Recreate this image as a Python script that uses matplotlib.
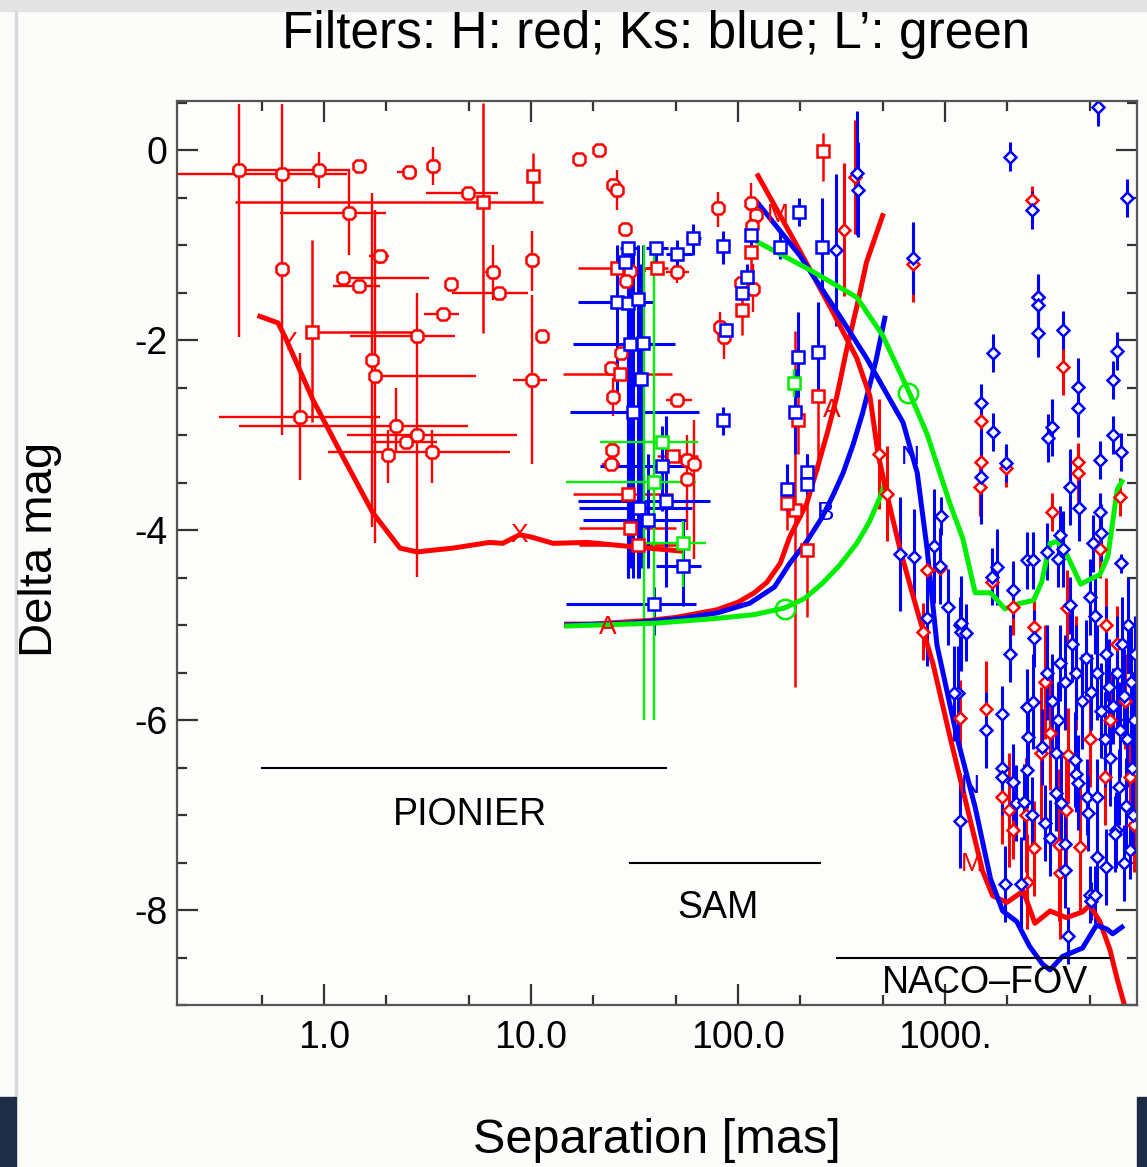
import numpy as np
import matplotlib.pyplot as plt
from matplotlib.patches import Rectangle

plt.rcParams['font.family'] = ['Liberation Sans', 'DejaVu Sans']

RED, BLUE, GREEN = '#ff0000', '#0000ff', '#00ee00'

# ---- detection limit curves (separation [mas], delta mag) ----
pio_lim_sep = [0.49, 0.60, 0.65, 0.885, 1.235, 1.725, 2.33, 2.81, 4.2, 6.3, 7.3, 8.8, 9.9, 12.8, 18.7, 32.5, 52.5]
pio_lim_dm = [-1.75, -1.82, -1.97, -2.63, -3.23, -3.82, -4.19, -4.23, -4.19, -4.13, -4.14, -4.05, -4.07, -4.14, -4.13, -4.18, -4.22]

sam_H_sep = [14.9, 20, 37.7, 50, 79, 100, 120, 138, 160, 178, 215, 240, 270, 300, 335, 375, 418, 500]
sam_H_dm = [-4.99, -4.99, -4.95, -4.92, -4.84, -4.76, -4.66, -4.55, -4.35, -4.07, -3.72, -3.37, -2.98, -2.6, -2.1, -1.65, -1.18, -0.69]
sam_K_sep = [14.9, 30, 54, 80, 114, 150, 178, 215, 256, 290, 322, 360, 400, 465, 512]
sam_K_dm = [-5.0, -4.98, -4.93, -4.87, -4.77, -4.6, -4.35, -4.12, -3.86, -3.62, -3.4, -3.1, -2.77, -2.21, -1.77]
sam_L_sep = [14.9, 40, 79, 120, 168, 210, 256, 310, 375, 430, 487, 510]
sam_L_dm = [-5.01, -4.98, -4.93, -4.89, -4.82, -4.72, -4.56, -4.37, -4.14, -3.92, -3.65, -3.52]

naco_H_sep = [125, 199, 288, 375, 434, 475, 526, 608, 735, 876, 1056, 1280, 1520, 1700, 1990, 2390, 2720, 3220, 3860, 4620, 5000, 5600, 6270, 6800, 7300]
naco_H_dm = [-0.27, -1.06, -1.71, -2.19, -2.59, -3.2, -3.64, -4.21, -4.85, -5.41, -6.17, -6.92, -7.59, -7.85, -7.92, -7.8, -8.14, -8.01, -8.08, -8.02, -7.95, -8.12, -8.42, -8.73, -8.97]
naco_K_sep = [125, 199, 311, 418, 628, 735, 820, 915, 1140, 1400, 1660, 1900, 2220, 2560, 2960, 3220, 3690, 4620, 5390, 6050, 6460, 7160]
naco_K_dm = [-0.56, -1.11, -1.75, -2.19, -2.87, -3.4, -4.2, -5.21, -6.17, -6.92, -7.67, -8.01, -8.12, -8.38, -8.57, -8.63, -8.49, -8.4, -8.16, -8.2, -8.25, -8.18]
naco_L_sep = [125, 222, 375, 500, 662, 820, 1056, 1220, 1400, 1660, 1950, 2220, 2680, 2930, 3220, 3480, 3860, 4530, 5000, 5600, 6120, 6800, 7160]
naco_L_dm = [-0.97, -1.26, -1.55, -1.95, -2.52, -2.99, -3.72, -4.09, -4.66, -4.66, -4.83, -4.78, -4.74, -4.55, -4.14, -4.12, -4.25, -4.57, -4.52, -4.47, -4.28, -3.57, -3.49]

# ---- H band (red) octagon points: value, lower/upper bounds ----
h_oct_sep = [0.39, 0.63, 0.95, 1.48, 2.57, 3.37, 4.97, 1.32, 0.63, 1.87, 1.71, 1.76, 1.24, 1.48, 4.10, 6.55, 7.00, 10.1, 3.76, 2.81, 11.3, 10.1, 0.765, 2.23, 2.81, 2.49, 3.33, 2.04,
             17.1, 21.3, 24.9, 26.1, 28.5, 30.0, 28.8, 50.6, 27.2, 24.4, 25.0, 50.6, 24.6, 24.4, 56.6, 57.0, 61.0, 80.0, 116, 122, 117, 104, 118, 81.6, 86]
h_oct_dm = [-0.21, -0.25, -0.21, -0.17, -0.23, -0.17, -0.45, -0.66, -1.25, -1.12, -2.21, -2.38, -1.35, -1.43, -1.41, -1.28, -1.50, -1.16, -1.73, -1.96, -1.96, -2.42, -2.81, -2.90, -3.00, -3.07, -3.18, -3.21,
            -0.09, 0.0, -0.37, -0.42, -0.83, -1.27, -1.38, -1.28, -2.14, -2.29, -2.60, -2.63, -3.16, -3.30, -3.26, -3.46, -3.30, -0.61, -0.56, -0.68, -0.80, -1.40, -1.46, -1.86, -1.97]
h_oct_sep_lo = [0.36, 0.19, 0.90, 1.40, 2.25, 3.30, 3.10, 0.61, 0.60, 1.65, 1.68, 1.65, 1.16, 1.10, 3.90, 6.00, 4.15, 9.80, 3.04, 1.34, 11.0, 8.20, 0.31, 0.39, 1.29, 1.70, 1.05, 2.00,
                17.1, 21.3, 24.9, 26.1, 28.5, 26.0, 28.8, 45.0, 27.2, 23.0, 25.0, 45.0, 24.6, 22.0, 56.6, 57.0, 61.0, 80.0, 116, 122, 117, 104, 118, 81.6, 86]
h_oct_sep_hi = [1.34, 1.29, 1.00, 1.60, 2.80, 3.45, 6.90, 2.00, 0.66, 2.06, 1.74, 5.40, 3.20, 1.87, 4.30, 7.20, 9.70, 10.4, 4.49, 4.30, 11.6, 11.9, 1.87, 4.97, 8.60, 3.50, 7.90, 2.08,
                17.1, 21.3, 24.9, 26.1, 28.5, 36.0, 28.8, 58.0, 27.2, 26.0, 25.0, 60.0, 24.6, 27.0, 56.6, 57.0, 61.0, 80.0, 116, 122, 117, 104, 118, 81.6, 86]
h_oct_dm_lo = [-1.97, -0.95, -0.40, -0.20, -0.26, -0.37, -0.50, -1.10, -3.00, -1.20, -3.97, -4.14, -1.40, -1.47, -1.45, -1.58, -1.55, -1.48, -1.77, -4.49, -2.00, -3.30, -3.47, -3.19, -3.05, -3.12, -3.50, -3.50,
               -0.09, 0.0, -0.37, -0.63, -0.83, -1.27, -1.38, -1.40, -2.14, -2.29, -2.80, -2.63, -3.16, -3.30, -3.26, -4.00, -4.30, -0.81, -0.90, -0.68, -0.80, -1.40, -1.70, -2.00, -2.20]
h_oct_dm_hi = [0.49, 0.49, -0.02, -0.14, -0.20, 0.03, -0.40, -0.21, -0.95, -1.05, -0.45, -0.63, -1.30, -1.39, -1.37, -1.00, -1.45, -0.85, -1.69, -1.50, -1.92, -1.53, -2.14, -2.50, -2.95, -3.02, -2.95, -2.95,
               -0.09, 0.0, -0.37, -0.21, -0.83, -1.27, -1.38, -1.15, -2.14, -2.29, -2.40, -2.63, -3.16, -3.30, -3.26, -3.00, -2.84, -0.44, -0.35, -0.68, -0.80, -1.40, -1.20, -1.70, -1.90]

# ---- H band (red) squares ----
h_sq_sep = [10.2, 5.86, 0.875, 26.1, 40.5, 48.6, 29.5, 27.0, 30.0, 33.0, 116, 105, 257, 243, 195, 189, 172, 215]
h_sq_dm = [-0.27, -0.55, -1.92, -1.24, -1.24, -3.22, -3.62, -2.36, -3.98, -4.16, -1.07, -1.68, -0.01, -2.59, -2.84, -3.79, -3.72, -4.21]
h_sq_sep_lo = [10.2, 0.37, 0.83, 16.8, 36.0, 40.5, 15.9, 14.3, 17.0, 17.0, 116, 105, 257, 243, 195, 189, 172, 215]
h_sq_sep_hi = [10.2, 11.4, 2.80, 39.5, 46.0, 64.0, 48.4, 47.9, 50.0, 50.0, 116, 105, 257, 243, 195, 189, 172, 215]
h_sq_dm_lo = [-0.55, -1.93, -2.86, -1.24, -1.24, -3.22, -3.62, -2.36, -3.98, -4.16, -1.40, -1.95, -0.33, -3.37, -3.20, -5.65, -4.00, -4.92]
h_sq_dm_hi = [-0.03, 0.50, -0.95, -1.24, -1.24, -3.22, -3.62, -2.36, -3.98, -4.16, -0.85, -1.45, 0.18, -1.90, -2.40, -1.90, -3.40, -3.61]

# ---- Ks band (blue) squares ----
k_sq_sep = [29.5, 28.5, 40.2, 50.6, 60.6, 26.1, 29.5, 32.9, 30.0, 34.7, 34.0, 31.1, 43.0, 44.8, 33.3, 36.7, 54.3, 39.2,
            84.6, 110, 105, 116, 88, 159, 197, 255, 195, 243, 189, 172, 215, 215, 84.6]
k_sq_dm = [-1.03, -1.18, -1.03, -1.09, -0.93, -1.60, -1.61, -1.57, -2.04, -2.03, -2.41, -2.76, -3.33, -3.69, -3.77, -3.89, -4.38, -4.78,
           -1.01, -1.34, -1.50, -0.89, -1.89, -1.02, -0.65, -1.02, -2.18, -2.13, -2.76, -3.57, -3.39, -3.51, -2.84]
k_sq_sep_lo = [27.0, 28.5, 36.0, 45.0, 56.0, 16.8, 29.5, 32.9, 15.9, 34.7, 34.0, 15.4, 21.6, 16.8, 17.0, 17.8, 40.0, 14.7,
               80.0, 110, 105, 116, 88, 159, 197, 255, 195, 243, 189, 172, 215, 215, 80.0]
k_sq_sep_hi = [33.0, 28.5, 46.0, 60.0, 66.0, 38.8, 29.5, 32.9, 49.6, 34.7, 34.0, 65.0, 64.0, 73.0, 60.0, 56.0, 66.0, 63.0,
               90.0, 110, 105, 116, 88, 159, 197, 255, 195, 243, 189, 172, 215, 215, 90.0]
k_sq_dm_lo = [-4.50, -1.18, -1.30, -1.30, -1.10, -2.60, -4.50, -4.50, -4.40, -4.30, -4.40, -4.50, -3.80, -4.60, -4.50, -4.40, -4.80, -5.10,
              -1.20, -1.50, -1.50, -1.00, -1.89, -1.15, -0.80, -1.44, -2.60, -2.60, -3.20, -3.80, -3.70, -3.70, -3.00]
k_sq_dm_hi = [-0.98, -1.18, -0.98, -0.95, -0.78, -1.00, -1.00, -1.00, -1.00, -1.00, -1.20, -1.00, -2.90, -2.80, -3.00, -3.20, -3.90, -4.60,
              -0.85, -1.20, -1.50, -0.80, -1.89, -0.85, -0.50, -0.50, -1.70, -1.60, -2.30, -3.30, -3.20, -3.20, -2.70]

# ---- L' band (green) squares and bars ----
l_sq_sep = [43.0, 39.2, 54.3, 187, 35.0, 39.5]
l_sq_dm = [-3.07, -3.49, -4.14, -2.45, -3.50, -3.50]
l_sq_sep_lo = [21.6, 14.7, 31.0, 187, 35.0, 39.5]
l_sq_sep_hi = [64.0, 63.0, 70.0, 187, 35.0, 39.5]
l_sq_dm_lo = [-3.07, -3.49, -4.60, -2.60, -6.00, -6.00]
l_sq_dm_hi = [-3.07, -3.49, -3.90, -2.30, -1.00, -1.05]

# ---- NACO points (vertical error only) ----
naco_h_sep = [366, 700, 2630, 2800, 3700, 1500, 1490, 1470, 1970, 4400, 4400, 7000, 3300, 325, 480, 526, 780, 950, 820, 1680,
              2130, 2700, 3900, 1180, 1580, 2900, 3200, 3950, 1880, 2050, 2450, 2120, 2700, 3550, 3850, 4500, 3600, 7800, 5000,
              6300, 6800, 5600, 6000, 4300, 7400, 5900, 8200, 2500, 3050]
naco_h_dm = [-0.28, -1.20, -0.53, -1.55, -2.28, -2.85, -3.28, -3.55, -3.35, -3.28, -3.40, -3.65, -3.81, -0.84, -3.20, -3.62, -5.07, -4.40, -4.42, -4.55,
             -4.81, -5.02, -4.82, -5.98, -5.88, -6.35, -6.14, -6.37, -6.81, -6.95, -7.00, -7.16, -7.35, -7.32, -6.95, -7.34, -7.61, -6.60, -6.20,
             -6.00, -5.20, -4.20, -5.00, -5.50, -5.80, -6.60, -7.10, -7.70, -5.60]
naco_h_err = [0.6, 0.4, 0.15, 0.2, 0.3, 0.2, 0.2, 0.3, 0.2, 0.2, 0.3, 0.2, 0.2, 0.7, 0.58, 0.5, 0.3, 0.2, 0.2, 0.2,
              0.3, 0.3, 0.4, 0.4, 0.5, 0.7, 0.6, 0.5, 0.5, 0.6, 0.6, 0.3, 0.5, 0.8, 0.6, 0.7, 0.7, 0.4, 0.5,
              0.5, 0.4, 0.3, 0.5, 0.6, 0.5, 0.5, 0.5, 0.5, 0.6]

naco_k_sep = [375, 380, 298, 700, 2060, 2630, 5500, 7600, 2800, 2820, 2800, 1700, 3700, 4400, 4400, 6800, 6500, 1500, 1710, 3300,
              3150, 6500, 7100, 1970, 1490, 4450, 4000, 5600, 5600, 606, 705, 820, 890, 950, 1030, 1180, 1200, 960, 1150, 1580,
              1880, 1180, 1950, 2340, 3950, 5000, 5100, 1690, 1790, 2130, 2480, 2670, 3120, 3600, 3700, 3500, 5200, 5700, 7100,
              1200, 1260, 2060, 2700, 4000, 5000, 5300, 1100, 2500, 2660, 2520, 2950, 1880, 1880, 2130, 2500, 3450, 4250, 4300,
              2200, 2400, 2620, 3050, 3200, 3450, 3650, 3800, 4400, 4850, 5400, 4900, 5450, 6000, 6700, 7800, 3800, 5300,
              3600, 3800, 4100, 4300, 4600, 4800, 5100, 5400, 5700, 6000, 6200, 6500, 6800, 7000, 7300, 7600, 7900, 8200,
              6300, 6900, 7500, 8000, 5900, 7200, 7700, 8300, 3300, 3100, 3500, 6600, 7300, 8100]
naco_k_dm = [-0.24, -0.42, -1.05, -1.14, -0.07, -0.63, 0.45, -0.50, -1.55, -1.63, -1.93, -2.14, -1.89, -2.49, -2.72, -2.11, -2.42, -2.66, -2.97, -2.92,
             -3.03, -3.00, -3.18, -3.29, -3.44, -3.77, -3.55, -3.26, -3.81, -4.25, -4.28, -4.93, -4.17, -4.38, -4.81, -5.00, -5.07, -3.85, -5.72, -6.10,
             -5.94, -7.06, -7.73, -7.73, -8.27, -7.84, -7.90, -4.49, -4.39, -4.63, -4.32, -4.32, -4.23, -4.05, -4.20, -4.30, -4.14, -4.03, -4.35,
             -4.98, -5.08, -5.30, -5.14, -4.79, -4.70, -4.90, -5.72, -5.86, -5.81, -6.18, -6.28, -6.50, -6.60, -6.65, -6.53, -6.35, -6.42, -6.57,
             -6.87, -6.86, -7.00, -7.08, -7.24, -6.77, -6.87, -7.30, -6.66, -6.81, -6.81, -6.98, -7.44, -7.55, -7.16, -7.37, -7.58, -7.84,
             -5.40, -5.60, -5.20, -5.50, -5.80, -5.35, -5.70, -5.50, -5.90, -5.30, -5.65, -5.85, -5.50, -6.10, -5.75, -6.20, -5.60, -6.00,
             -6.40, -6.70, -6.90, -6.50, -6.20, -5.20, -5.00, -5.30, -5.80, -5.50, -6.00, -7.20, -7.50, -7.00]
naco_k_err = [0.65, 0.5, 0.8, 0.38, 0.15, 0.2, 0.2, 0.2, 0.25, 0.2, 0.25, 0.2, 0.2, 0.3, 0.3, 0.2, 0.2, 0.2, 0.2, 0.3,
              0.25, 0.2, 0.2, 0.2, 0.5, 0.35, 0.4, 0.2, 0.2, 0.6, 0.5, 0.5, 0.6, 0.4, 0.4, 0.3, 0.3, 0.2, 0.5, 0.4,
              0.3, 0.5, 0.4, 0.5, 0.3, 0.3, 0.2, 0.3, 0.4, 0.3, 0.3, 0.3, 0.3, 0.3, 0.4, 0.3, 0.3, 0.3, 0.1,
              0.5, 0.3, 0.3, 0.3, 0.3, 0.4, 0.4, 0.5, 0.4, 0.5, 0.4, 0.4, 0.4, 0.4, 0.4, 0.4, 0.4, 0.5, 0.4,
              0.4, 0.4, 0.4, 0.4, 0.4, 0.4, 0.5, 0.4, 0.5, 0.4, 0.4, 0.4, 0.4, 0.4, 0.4, 0.3, 0.4, 0.3,
              0.4, 0.5, 0.4, 0.5, 0.5, 0.4, 0.4, 0.5, 0.5, 0.5, 0.5, 0.4, 0.6, 0.5, 0.5, 0.5, 0.6, 0.5,
              0.5, 0.4, 0.5, 0.5, 0.5, 0.5, 0.5, 0.4, 0.5, 0.5, 0.4, 0.4, 0.4, 0.4]

# ---- symbol letters on the curves ----
sym_text = ['Y', 'X', 'A', 'M', 'A', 'B', 'N', 'N', 'M']
sym_sep = [0.67, 8.8, 23.6, 156, 285, 266, 680, 1320, 1350]
sym_dm = [-2.03, -4.05, -5.02, -0.68, -2.74, -3.82, -3.23, -6.69, -7.52]
sym_color = [RED, RED, RED, RED, RED, BLUE, BLUE, BLUE, RED]
circ_sep = [168, 662]
circ_dm = [-4.83, -2.56]

# ---- instrument ranges ----
inst_name = ['PIONIER', 'SAM', 'NACO\u2013FOV']
inst_lo = [0.5, 30, 300]
inst_hi = [45, 250, 6300]
inst_dm = [-6.5, -7.5, -8.5]
inst_text_sep = [5.1, 80, 1560]
inst_text_dm = [-7.0, -7.98, -8.77]


def bounds_err(v, lo, hi):
    v, lo, hi = np.asarray(v), np.asarray(lo), np.asarray(hi)
    return np.vstack([v - lo, hi - v])


fig = plt.figure(figsize=(11.47, 11.67), dpi=100, facecolor='#fcfcfa')
# screenshot frame
fig.patches.append(Rectangle((0, 0.991), 1, 0.009, transform=fig.transFigure, color='#e4e4e4', zorder=0))
fig.patches.append(Rectangle((0.0135, 0.06), 0.0012, 0.931, transform=fig.transFigure, color='#d8d8d8', zorder=0))
fig.patches.append(Rectangle((0, 0), 0.014, 0.06, transform=fig.transFigure, color='#1f2c48', zorder=0))
fig.patches.append(Rectangle((0.991, 0), 0.009, 0.06, transform=fig.transFigure, color='#1f2c48', zorder=0))

ax = fig.add_axes([0.1543, 0.1388, 0.837, 0.7746])
ax.set_facecolor('#fdfdfb')
ax.set_xscale('log')
ax.set_xlim(0.195, 8470)
ax.set_ylim(-9.0, 0.516)

ebkw = dict(capsize=0, linestyle='none', mfc='white', mew=1.8)

# H band
ax.errorbar(h_oct_sep, h_oct_dm, xerr=bounds_err(h_oct_sep, h_oct_sep_lo, h_oct_sep_hi),
            yerr=bounds_err(h_oct_dm, h_oct_dm_lo, h_oct_dm_hi), fmt='8', ms=9.5,
            color=RED, elinewidth=1.7, **ebkw)
ax.errorbar(h_sq_sep, h_sq_dm, xerr=bounds_err(h_sq_sep, h_sq_sep_lo, h_sq_sep_hi),
            yerr=bounds_err(h_sq_dm, h_sq_dm_lo, h_sq_dm_hi), fmt='s', ms=9,
            color=RED, elinewidth=1.8, **ebkw)
ax.errorbar(naco_h_sep, naco_h_dm, yerr=naco_h_err, fmt='D', ms=6.5,
            color=RED, elinewidth=2.2, **ebkw)

# Ks band
ax.errorbar(k_sq_sep, k_sq_dm, xerr=bounds_err(k_sq_sep, k_sq_sep_lo, k_sq_sep_hi),
            yerr=bounds_err(k_sq_dm, k_sq_dm_lo, k_sq_dm_hi), fmt='s', ms=9,
            color=BLUE, elinewidth=2.2, **ebkw)
ax.errorbar(naco_k_sep, naco_k_dm, yerr=naco_k_err, fmt='D', ms=6.5,
            color=BLUE, elinewidth=2.2, **ebkw)

# L' band
ax.errorbar(l_sq_sep[:4], l_sq_dm[:4], xerr=bounds_err(l_sq_sep[:4], l_sq_sep_lo[:4], l_sq_sep_hi[:4]),
            yerr=bounds_err(l_sq_dm[:4], l_sq_dm_lo[:4], l_sq_dm_hi[:4]), fmt='s', ms=9,
            color=GREEN, elinewidth=1.7, **ebkw)
ax.errorbar(l_sq_sep[4:], l_sq_dm[4:], yerr=bounds_err(l_sq_dm[4:], l_sq_dm_lo[4:], l_sq_dm_hi[4:]),
            fmt='none', ecolor=GREEN, elinewidth=1.7, capsize=0)

# detection limits
lw = 3.6
ax.plot(pio_lim_sep, pio_lim_dm, color=RED, lw=lw)
ax.plot(sam_H_sep, sam_H_dm, color=RED, lw=lw)
ax.plot(sam_K_sep, sam_K_dm, color=BLUE, lw=lw)
ax.plot(sam_L_sep, sam_L_dm, color=GREEN, lw=lw)
ax.plot(naco_H_sep, naco_H_dm, color=RED, lw=lw)
ax.plot(naco_K_sep, naco_K_dm, color=BLUE, lw=lw)
ax.plot(naco_L_sep, naco_L_dm, color=GREEN, lw=lw)
ax.plot(circ_sep, circ_dm, 'o', ms=14, mfc='none', mec=GREEN, mew=1.8)
for t, s, d, c in zip(sym_text, sym_sep, sym_dm, sym_color):
    ax.text(s, d, t, color=c, fontsize=19, ha='center', va='center')

# instrument ranges
for name, lo, hi, d, ts, td in zip(inst_name, inst_lo, inst_hi, inst_dm, inst_text_sep, inst_text_dm):
    ax.plot([lo, hi], [d, d], color='black', lw=1.5)
    ax.text(ts, td, name, fontsize=27, ha='center', va='center')

# ticks
ax.set_xticks([1, 10, 100, 1000])
ax.set_xticklabels(['1.0', '10.0', '100.0', '1000.'])
ax.set_xticks([0.5, 2, 5, 20, 50, 200, 500, 2000, 5000], minor=True)
ax.set_xticklabels([], minor=True)
ax.set_yticks([0, -2, -4, -6, -8])
ax.set_yticklabels(['0', '-2', '-4', '-6', '-8'])
ax.set_yticks([v for v in np.arange(-9.0, 0.6, 0.5) if v % 2 != 0], minor=True)
ax.tick_params(which='both', direction='in', top=True, right=True, color='#333333', width=1.6)
ax.tick_params(which='major', length=15)
ax.tick_params(which='minor', length=7.5)
ax.tick_params(axis='x', labelsize=27, pad=11)
ax.tick_params(axis='y', labelsize=27, pad=7)
for sp in ax.spines.values():
    sp.set_color('#555555')
    sp.set_linewidth(1.6)

fig.text(0.572, 0.959, 'Filters: H: red; Ks: blue; L\u2019: green', fontsize=37, ha='center', va='baseline')
fig.text(0.573, 0.023, 'Separation [mas]', fontsize=35, ha='center', va='center')
fig.text(0.035, 0.529, 'Delta mag', fontsize=34, ha='center', va='center', rotation=90)

fig.savefig('out.png', dpi=100, facecolor=fig.get_facecolor())
